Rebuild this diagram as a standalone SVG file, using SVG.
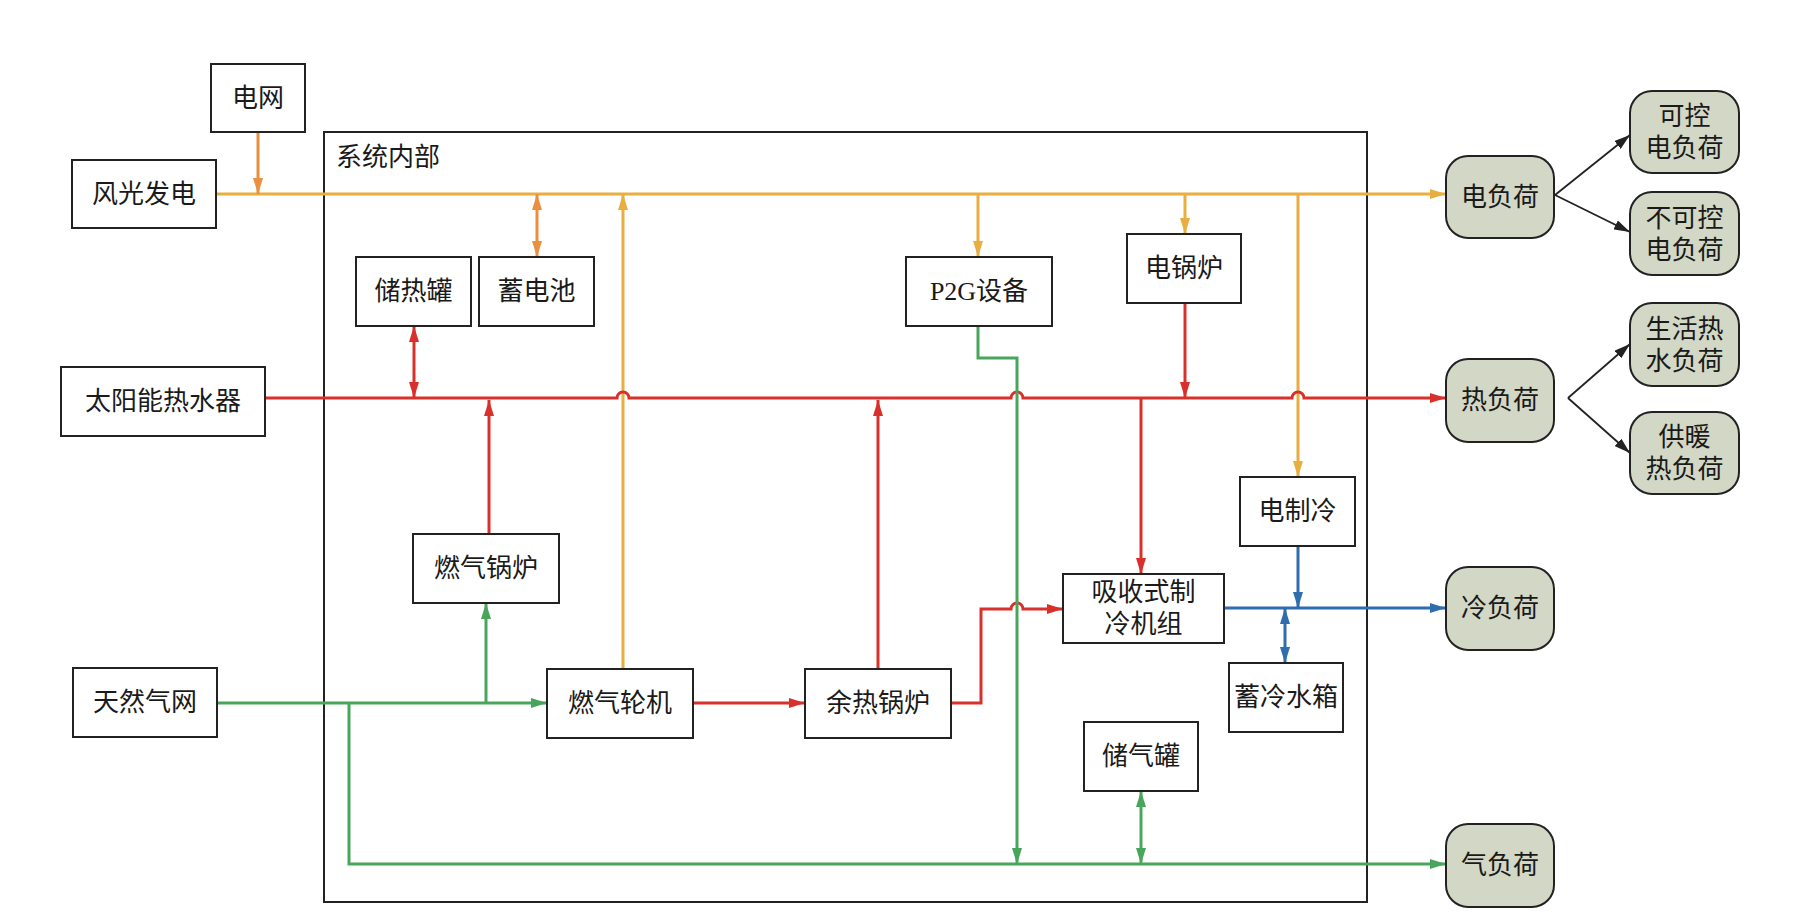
<svg xmlns="http://www.w3.org/2000/svg" width="1802" height="920" viewBox="0 0 1802 920">
<style>
.box{fill:#fff;stroke:#222;stroke-width:2}
.load{fill:#D3D7C6;stroke:#222;stroke-width:2}
.sys{fill:none;stroke:#222;stroke-width:2}
text{font-family:"Liberation Serif","Noto Sans CJK SC",serif;font-size:26px;fill:#1a1a1a;text-anchor:middle;dominant-baseline:central}
.c{fill:none;stroke-width:3}
.or{stroke:#E8AE40}.go{stroke:#EB8F3F}.rd{stroke:#D8302A}.gr{stroke:#48A65C}.bl{stroke:#2E6DAE}.bk{stroke:#222;stroke-width:1.8}
</style>
<defs>
<marker id="aO" markerUnits="userSpaceOnUse" markerWidth="16" markerHeight="10" refX="16" refY="5" orient="auto-start-reverse"><path d="M0,0 L16,5 L0,10 Z" fill="#E8AE40"/></marker>
<marker id="aG" markerUnits="userSpaceOnUse" markerWidth="16" markerHeight="10" refX="16" refY="5" orient="auto-start-reverse"><path d="M0,0 L16,5 L0,10 Z" fill="#EB8F3F"/></marker>
<marker id="aR" markerUnits="userSpaceOnUse" markerWidth="16" markerHeight="10" refX="16" refY="5" orient="auto-start-reverse"><path d="M0,0 L16,5 L0,10 Z" fill="#D8302A"/></marker>
<marker id="aN" markerUnits="userSpaceOnUse" markerWidth="16" markerHeight="10" refX="16" refY="5" orient="auto-start-reverse"><path d="M0,0 L16,5 L0,10 Z" fill="#48A65C"/></marker>
<marker id="aB" markerUnits="userSpaceOnUse" markerWidth="16" markerHeight="10" refX="16" refY="5" orient="auto-start-reverse"><path d="M0,0 L16,5 L0,10 Z" fill="#2E6DAE"/></marker>
<marker id="aK" markerUnits="userSpaceOnUse" markerWidth="16" markerHeight="10" refX="16" refY="5" orient="auto"><path d="M0,0 L16,5 L0,10 Z" fill="#222"/></marker>
</defs>
<rect width="1802" height="920" fill="#fff"/>

<g id="system">
<rect class="sys" x="324" y="132" width="1043" height="770"/>
<text x="336" y="157" style="text-anchor:start">系统内部</text>
</g>

<g id="connectors">
<!-- orange electricity -->
<path class="c or" d="M216,194 H1446" marker-end="url(#aO)"/>
<path class="c or" d="M623,669 V194" marker-end="url(#aO)"/>
<path class="c or" d="M978,194 V257" marker-end="url(#aO)"/>
<path class="c or" d="M1185,194 V234" marker-end="url(#aO)"/>
<path class="c or" d="M1298,194 V477" marker-end="url(#aO)"/>
<path class="c go" d="M258,132 V194" marker-end="url(#aG)"/>
<path class="c go" d="M537,194 V257" marker-start="url(#aG)" marker-end="url(#aG)"/>
<!-- red heat -->
<path class="c rd" d="M265,398 H617 A6,6 0 0 1 629,398 H1011 A6,6 0 0 1 1023,398 H1292 A6,6 0 0 1 1304,398 H1446" marker-end="url(#aR)"/>
<path class="c rd" d="M414,326 V398" marker-start="url(#aR)" marker-end="url(#aR)"/>
<path class="c rd" d="M489,534 V400" marker-end="url(#aR)"/>
<path class="c rd" d="M878,669 V400" marker-end="url(#aR)"/>
<path class="c rd" d="M1185,303 V398" marker-end="url(#aR)"/>
<path class="c rd" d="M1141,398 V574" marker-end="url(#aR)"/>
<path class="c rd" d="M694,703 H805" marker-end="url(#aR)"/>
<path class="c rd" d="M951,703 H981 V609 H1011 A6,6 0 0 1 1023,609 H1063" marker-end="url(#aR)"/>
<!-- green gas -->
<path class="c gr" d="M217,703 H547" marker-end="url(#aN)"/>
<path class="c gr" d="M486,703 V603" marker-end="url(#aN)"/>
<path class="c gr" d="M349,703 V864 H1446" marker-end="url(#aN)"/>
<path class="c gr" d="M978,326 V358 H1017 V864" marker-end="url(#aN)"/>
<path class="c gr" d="M1141,791 V864" marker-start="url(#aN)" marker-end="url(#aN)"/>
<!-- blue cooling -->
<path class="c bl" d="M1225,608 H1446" marker-end="url(#aB)"/>
<path class="c bl" d="M1298,546 V608" marker-end="url(#aB)"/>
<path class="c bl" d="M1285,608 V663" marker-start="url(#aB)" marker-end="url(#aB)"/>
<!-- black load split -->
<path class="c bk" d="M1555,195 L1630,135" marker-end="url(#aK)"/>
<path class="c bk" d="M1555,195 L1630,232" marker-end="url(#aK)"/>
<path class="c bk" d="M1568,398 L1630,344" marker-end="url(#aK)"/>
<path class="c bk" d="M1568,398 L1630,453" marker-end="url(#aK)"/>
</g>

<g id="grid"><rect class="box" x="211" y="64" width="94" height="68"/><text x="258" y="98">电网</text></g>
<g id="wind-solar"><rect class="box" x="72" y="160" width="144" height="68"/><text x="144" y="194">风光发电</text></g>
<g id="heat-storage"><rect class="box" x="356" y="257" width="115" height="69"/><text x="413.5" y="291.5">储热罐</text></g>
<g id="battery"><rect class="box" x="479" y="257" width="115" height="69"/><text x="536.5" y="291.5">蓄电池</text></g>
<g id="p2g"><rect class="box" x="906" y="257" width="146" height="69"/><text x="979" y="291.5">P2G设备</text></g>
<g id="electric-boiler"><rect class="box" x="1127" y="234" width="114" height="69"/><text x="1184" y="268.5">电锅炉</text></g>
<g id="solar-heater"><rect class="box" x="61" y="367" width="204" height="69"/><text x="163" y="401.5">太阳能热水器</text></g>
<g id="gas-boiler"><rect class="box" x="413" y="534" width="146" height="69"/><text x="486" y="568.5">燃气锅炉</text></g>
<g id="gas-grid"><rect class="box" x="73" y="668" width="144" height="69"/><text x="145" y="702.5">天然气网</text></g>
<g id="gas-turbine"><rect class="box" x="547" y="669" width="146" height="69"/><text x="620" y="703.5">燃气轮机</text></g>
<g id="waste-heat-boiler"><rect class="box" x="805" y="669" width="146" height="69"/><text x="878" y="703.5">余热锅炉</text></g>
<g id="absorption-chiller"><rect class="box" x="1063" y="574" width="161" height="69"/><text x="1143.5" y="592">吸收式制</text><text x="1143.5" y="624">冷机组</text></g>
<g id="electric-chiller"><rect class="box" x="1240" y="477" width="115" height="69"/><text x="1297.5" y="511.5">电制冷</text></g>
<g id="cold-storage"><rect class="box" x="1229" y="663" width="114" height="69"/><text x="1286" y="697.5">蓄冷水箱</text></g>
<g id="gas-storage"><rect class="box" x="1084" y="722" width="114" height="69"/><text x="1141" y="756.5">储气罐</text></g>

<g id="elec-load"><rect class="load" x="1446" y="156" width="108" height="82" rx="22"/><text x="1500" y="197">电负荷</text></g>
<g id="heat-load"><rect class="load" x="1446" y="359" width="108" height="83" rx="22"/><text x="1500" y="400.5">热负荷</text></g>
<g id="cool-load"><rect class="load" x="1446" y="567" width="108" height="83" rx="22"/><text x="1500" y="608.5">冷负荷</text></g>
<g id="gas-load"><rect class="load" x="1446" y="824" width="108" height="83" rx="22"/><text x="1500" y="865.5">气负荷</text></g>
<g id="ctrl-load"><rect class="load" x="1630" y="91" width="109" height="82" rx="22"/><text x="1684.5" y="116">可控</text><text x="1684.5" y="148">电负荷</text></g>
<g id="unctrl-load"><rect class="load" x="1630" y="192" width="109" height="83" rx="22"/><text x="1684.5" y="218">不可控</text><text x="1684.5" y="250">电负荷</text></g>
<g id="hotwater-load"><rect class="load" x="1630" y="303" width="109" height="83" rx="22"/><text x="1684.5" y="329">生活热</text><text x="1684.5" y="361">水负荷</text></g>
<g id="heating-load"><rect class="load" x="1630" y="412" width="109" height="82" rx="22"/><text x="1684.5" y="437">供暖</text><text x="1684.5" y="469">热负荷</text></g>
</svg>
